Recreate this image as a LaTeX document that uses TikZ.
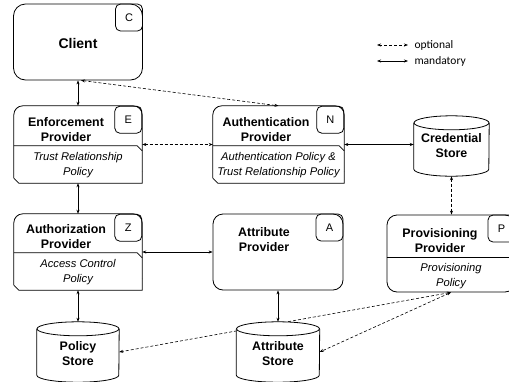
\documentclass[tikz,border=0pt]{standalone}
\usepackage{fontspec}
\setmainfont{Liberation Sans}
\newfontfamily\legendfont{Carlito}
\usetikzlibrary{arrows.meta,positioning,calc}

% outline of a provider module: rounded top, cut lower left corner, policy part
\newcommand{\modout}[2]{%
  \draw[edge, rounded corners=9pt] ($(#1.south west)+(0,-5)$) -- (#1.north west) -- (#1.north east) -- ($(#1.south east)+(0,-12)$);
  \draw[edge] ($(#1.south east)+(0,-12)$) -- (#1.south east) -- ($(#1.south west)+(5,0)$) -- ($(#1.south west)+(0,-5)$);
  \draw[edge] ($(#1.north west)+(0,#2)$) -- ($(#1.north east)+(-5,#2)$) -- ($(#1.north east)+(0,#2+5)$);
}
% outline of a store (cylinder), filled so lines behind it are hidden
\newcommand{\storeout}[2]{%
  \draw[edge, fill=white] ($(#1.north west)+(0,7)$) -- ($(#1.south west)+(0,-7)$)
    arc[start angle=180, end angle=0, x radius=#2, y radius=7] -- ($(#1.north east)+(0,7)$);
  \draw[edge, fill=white] ($(#1.north)+(0,7)$) ellipse[x radius=#2, y radius=7];
}

\begin{document}
\begin{tikzpicture}[x=1pt, y=-1pt,
    edge/.style={draw=black, line width=0.8pt},
    blk/.style={rectangle, inner sep=0pt},
    rbox/.style={blk, draw=black, line width=0.8pt, rounded corners=10pt},
    tag/.style={rectangle, draw=black, line width=0.8pt, rounded corners=5pt, minimum size=27pt, inner sep=0pt, anchor=north east, font=\fontsize{11}{13}\selectfont},
    title/.style={font=\fontsize{12.4}{15}\selectfont\bfseries, align=center},
    rule/.style={font=\fontsize{11.2}{15}\selectfont\itshape, align=center},
    mand/.style={{Stealth[length=4pt,width=3pt]}-{Stealth[length=4pt,width=3pt]}, line width=0.6pt},
    opt/.style={mand, dash pattern=on 3pt off 2pt},
    legend/.style={font=\legendfont\fontsize{11.5}{13}\selectfont, anchor=west}
]
    \clip (0,0) rectangle (509,381);

    % Client
    \node[rbox, minimum width=129pt, minimum height=76pt, rounded corners=12pt] (client) at (78,42) {};
    \node[tag] (client-tag) at (client.north east) {C};
    \node[font=\fontsize{14}{16}\selectfont\bfseries] (client-lbl) at (78,43) {Client};

    % Providers with policies
    \node[blk, minimum width=128pt, minimum height=77pt] (enf) at (78,144.5) {};
    \modout{enf}{40}
    \node[tag] (enf-tag) at (enf.north east) {E};
    \node[title] (enf-lbl) at (66,130) {Enforcement\\Provider};
    \node[rule] (enf-rule) at (78,165.5) {Trust Relationship\\Policy};

    \node[blk, minimum width=131pt, minimum height=77pt] (auth) at (278.5,144.5) {};
    \modout{auth}{40}
    \node[tag] (auth-tag) at (auth.north east) {N};
    \node[title] (auth-lbl) at (266,130) {Authentication\\Provider};
    \node[rule] (auth-rule) at (278.5,165.5) {Authentication Policy \&\\Trust Relationship Policy};

    \node[blk, minimum width=128pt, minimum height=76pt] (authz) at (78,252) {};
    \modout{authz}{39}
    \node[tag] (authz-tag) at (authz.north east) {Z};
    \node[title] (authz-lbl) at (66,237) {Authorization\\Provider};
    \node[rule] (authz-rule) at (78,272) {Access Control\\Policy};

    \node[rbox, minimum width=130pt, minimum height=76pt] (attrp) at (278,252) {};
    \node[tag] (attrp-tag) at (attrp.north east) {A};
    \node[title] (attrp-lbl) at (264,240) {Attribute\\Provider};

    \node[rbox, minimum width=128pt, minimum height=77pt] (prov) at (451,253.5) {};
    \draw[edge] ($(prov.north west)+(0,43)$) -- ($(prov.north east)+(0,43)$);
    \node[tag] (prov-tag) at (prov.north east) {P};
    \node[title] (prov-lbl) at (440,241) {Provisioning\\Provider};
    \node[rule] (prov-rule) at (451,276.5) {Provisioning\\Policy};

    % Stores (outlines drawn after the links)
    \node[blk, minimum width=75pt, minimum height=60pt] (cred) at (451.5,146) {};
    \node[blk, minimum width=82pt, minimum height=60pt] (pol) at (78,352) {};
    \node[blk, minimum width=83pt, minimum height=60pt] (attr) at (278,352) {};

    % Mandatory links
    \draw[mand] (client.south) -- (enf.north);
    \draw[mand] (enf.south) -- (authz.north);
    \draw[mand] (authz.east) -- (attrp.west);
    \draw[mand] (authz.south) -- (pol.north);
    \draw[mand] (attrp.south) -- (attr.north);
    \draw[mand] (auth.east) -- (auth.east -| cred.west);

    % Optional links
    \draw[opt] ([xshift=3pt]client.south) -- (auth.north);
    \draw[opt] (enf.east) -- (auth.west);
    \draw[opt] (cred.south) -- (cred.south |- prov.north);
    \draw[opt] (prov.south) -- (pol.east);
    \draw[opt] (prov.south) -- (attr.east);

    \storeout{cred}{37.5}
    \storeout{pol}{41}
    \storeout{attr}{41.5}
    \node[title] (cred-lbl) at (cred) {Credential\\Store};
    \node[title] (pol-lbl) at (78,353.5) {Policy\\Store};
    \node[title] (attr-lbl) at (278,353.5) {Attribute\\Store};

    % Legend
    \coordinate (opt-l) at (377,45);
    \coordinate (opt-r) at (408,45);
    \coordinate (mand-l) at (377,61);
    \coordinate (mand-r) at (408,61);
    \draw[opt] (opt-l) -- (opt-r);
    \draw[mand] (mand-l) -- (mand-r);
    \node[legend] (opt-lbl) at (411,45) {optional};
    \node[legend] (mand-lbl) at (411,61) {mandatory};

\end{tikzpicture}
\end{document}
